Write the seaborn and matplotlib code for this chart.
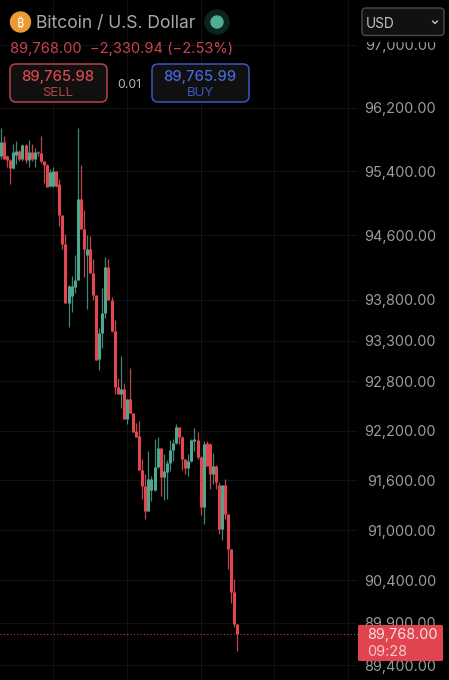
import matplotlib
matplotlib.use("Agg")
import matplotlib.pyplot as plt
from matplotlib.patches import Circle, FancyBboxPatch, Rectangle
from matplotlib.transforms import blended_transform_factory
import pandas as pd
import seaborn as sns

# values
opens = [95590, 95770, 95590, 95540, 95440, 95600, 95650, 95560, 95730, 95540,
         95640, 95560, 95640, 95630, 95530, 95480, 95220, 95220, 95410, 95240,
         94850, 94490, 93760, 93850, 93960, 94050, 95050, 94680, 94350, 94430,
         94130, 93860, 93070, 93390, 93640, 94210, 93800, 93420, 92730, 92650,
         92710, 92340, 92580, 92420, 92190, 92140, 91720, 91530, 91230, 91480,
         91480, 91760, 91990, 91640, 91700, 91810, 91970, 92050, 92240, 92120,
         91860, 91750, 91830, 92080, 92090, 91880, 91280, 92050, 92040, 91670,
         91770, 91540, 91020, 91540, 91190, 90770, 90260, 89880]
highs = [95940, 95840, 95610, 95560, 95750, 95780, 95670, 95740, 95740, 95800,
         95740, 95700, 95650, 95840, 95530, 95490, 95430, 95460, 95410, 95300,
         94860, 94620, 93990, 94100, 94350, 95940, 95480, 94920, 94610, 94590,
         94310, 93860, 93460, 93950, 94330, 94310, 93840, 93550, 92840, 93110,
         92780, 92580, 92960, 92420, 92290, 92320, 91860, 91680, 91950, 91650,
         92100, 92120, 91990, 91920, 91840, 92090, 92100, 92280, 92250, 92130,
         91860, 91920, 92100, 92230, 92180, 91890, 92080, 92080, 92050, 91930,
         91790, 91580, 91540, 91610, 91190, 90770, 90420, 89880]
lows = [95560, 95550, 95450, 95240, 95430, 95490, 95530, 95530, 95510, 95450,
        95530, 95460, 95590, 95510, 95260, 95200, 95210, 95210, 95200, 94720,
        94430, 93760, 93470, 93650, 93890, 94050, 94680, 94080, 93690, 94130,
        93800, 93060, 92940, 93210, 93580, 93800, 93410, 92650, 92650, 92480,
        92340, 92280, 92410, 92180, 92120, 91720, 91380, 91140, 91230, 91350,
        91470, 91750, 91410, 91360, 91380, 91710, 91830, 92040, 92040, 91730,
        91670, 91650, 91820, 91950, 91860, 91180, 91070, 91770, 91500, 91560,
        91490, 90960, 90880, 91140, 90540, 90130, 89850, 89570]
closes = [95770, 95560, 95540, 95440, 95640, 95650, 95560, 95730, 95540, 95640,
          95560, 95640, 95630, 95530, 95480, 95210, 95390, 95410, 95220, 94850,
          94490, 93760, 93970, 93970, 94050, 95050, 94680, 94430, 94430, 94130,
          93860, 93060, 93390, 93640, 94210, 93800, 93420, 92730, 92650, 92710,
          92340, 92580, 92420, 92180, 92120, 91720, 91530, 91230, 91620, 91620,
          91760, 91990, 91640, 91710, 91810, 91970, 92050, 92240, 92120, 91860,
          91750, 91830, 92090, 92100, 91880, 91280, 92040, 91770, 91670, 91770,
          91580, 91020, 91540, 91190, 90770, 90260, 89880, 89768]

price_ticks = [97000, 96200, 95400, 94600, 93800, 93300, 92800, 92200, 91600,
               91000, 90400, 89900, 89400]
last_price = 89768
grid_slots = [17, 41, 65, 89, 113]

RED = "#e2464f"
GREEN = "#4ea78e"
RED_WICK = "#bd474e"
GREEN_WICK = "#3f8673"
GREY = "#9c9c9c"

sns.set_theme(style="dark", rc={"figure.facecolor": "black", "axes.facecolor": "black"})
plt.rcParams["font.family"] = ["Inter", "DejaVu Sans"]


def segments(first, second):
    rows = []
    for i, (o, c) in enumerate(zip(opens, closes)):
        side = "up" if c >= o else "down"
        rows.append({"i": i, "price": first[i], "side": side})
        rows.append({"i": i, "price": second[i], "side": side})
    return pd.DataFrame(rows)


fig = plt.figure(figsize=(4.49, 6.8), dpi=100)
ax = fig.add_axes([0, 0, 1, 1])
ax.set_yscale("log")

# faint grid
ax.hlines(price_ticks, -1, 116, color="#111111", lw=0.8, zorder=0)
ax.vlines(grid_slots, 89000, 98000, color="#111111", lw=0.8, zorder=0)

sns.lineplot(data=segments(highs, lows), x="i", y="price", hue="side", units="i",
             estimator=None, sort=False, legend=False, ax=ax, linewidth=0.9,
             palette={"up": GREEN_WICK, "down": RED_WICK}, solid_capstyle="butt", zorder=2)
sns.lineplot(data=segments(opens, closes), x="i", y="price", hue="side", units="i",
             estimator=None, sort=False, legend=False, ax=ax, linewidth=2.2,
             palette={"up": GREEN, "down": RED}, solid_capstyle="butt", zorder=3)

ax.axhline(last_price, xmin=0, xmax=358 / 449, color="#c9444c", lw=0.8, ls=(0, (1, 2)), zorder=1)

ax.set_xlim(-0.326, 145.9)
ax.set_ylim(89224, 97576)
ax.set_axis_off()

# price labels sit on the right side of the axis
trans = blended_transform_factory(ax.transAxes, ax.transData)
for p in price_ticks:
    ax.text(436 / 449, p, f"{p:,.2f}", transform=trans, ha="right", va="center_baseline",
            color=GREY, fontsize=10.4, zorder=4)

# header and price tag, drawn in pixels
ui = fig.add_axes([0, 0, 1, 1], zorder=5)
ui.set_xlim(0, 449)
ui.set_ylim(680, 0)
ui.patch.set_alpha(0)
ui.set_axis_off()

ui.add_patch(Circle((20.5, 22), 10, color="#ee9a33"))
ui.text(20.5, 22, "\u20bf", color="white", fontsize=9, ha="center", va="center_baseline",
        family=["Noto Sans", "Roboto", "Open Sans", "Lato", "Liberation Sans", "DejaVu Sans"])
ui.text(36, 22, "Bitcoin / U.S. Dollar", color="#a8a8a8", fontsize=12.6, ha="left", va="center_baseline")
ui.add_patch(Circle((217, 22), 12, color="#0b2420"))
ui.add_patch(Circle((217, 22), 6, color="#4fae90"))
ui.text(10, 48, "89,768.00  \u22122,330.94 (\u22122.53%)", color="#c9444c", fontsize=10.6,
        ha="left", va="center_baseline")

ui.add_patch(FancyBboxPatch((10, 64), 97, 38, boxstyle="round,pad=0,rounding_size=6",
                            fc="#101010", ec="#b5444a", lw=1.1))
ui.text(58, 75, "89,765.98", color="#d9484f", fontsize=10.7, fontweight="medium", ha="center", va="center_baseline")
ui.text(58, 91, "SELL", color="#b5444a", fontsize=9.5, ha="center", va="center_baseline")
ui.text(129, 83, "0.01", color="#b5b5b5", fontsize=8.8, ha="center", va="center_baseline")
ui.add_patch(FancyBboxPatch((152, 64), 97, 38, boxstyle="round,pad=0,rounding_size=6",
                            fc="#101010", ec="#3a57c4", lw=1.1))
ui.text(200, 75, "89,765.99", color="#4766d8", fontsize=10.7, fontweight="medium", ha="center", va="center_baseline")
ui.text(200, 91, "BUY", color="#3a57c4", fontsize=9.5, ha="center", va="center_baseline")

# currency selector covers the top of the first price label
ui.add_patch(Rectangle((355, 0), 94, 41, color="black"))
ui.add_patch(FancyBboxPatch((362, 8), 82, 27.5, boxstyle="round,pad=0,rounding_size=4",
                            fc="#111111", ec="#4a4a4a", lw=1))
ui.text(366, 22, "USD", color="#c4c4c4", fontsize=9.8, ha="left", va="center_baseline")
ui.plot([432.5, 435, 437.5], [21, 23.5, 21], color="#c4c4c4", lw=1)

ui.add_patch(FancyBboxPatch((358, 625), 85, 36, boxstyle="round,pad=0,rounding_size=1.5",
                            fc="#e0444f", ec="none"))
ui.text(367, 634, f"{last_price:,.2f}", color="#f6dfe0", fontsize=10.4, ha="left", va="center_baseline")
ui.text(367, 650, "09:28", color="#f3c9cc", fontsize=10.4, ha="left", va="center_baseline")

fig.savefig("out.png", dpi=100, facecolor="black")
plt.close(fig)
